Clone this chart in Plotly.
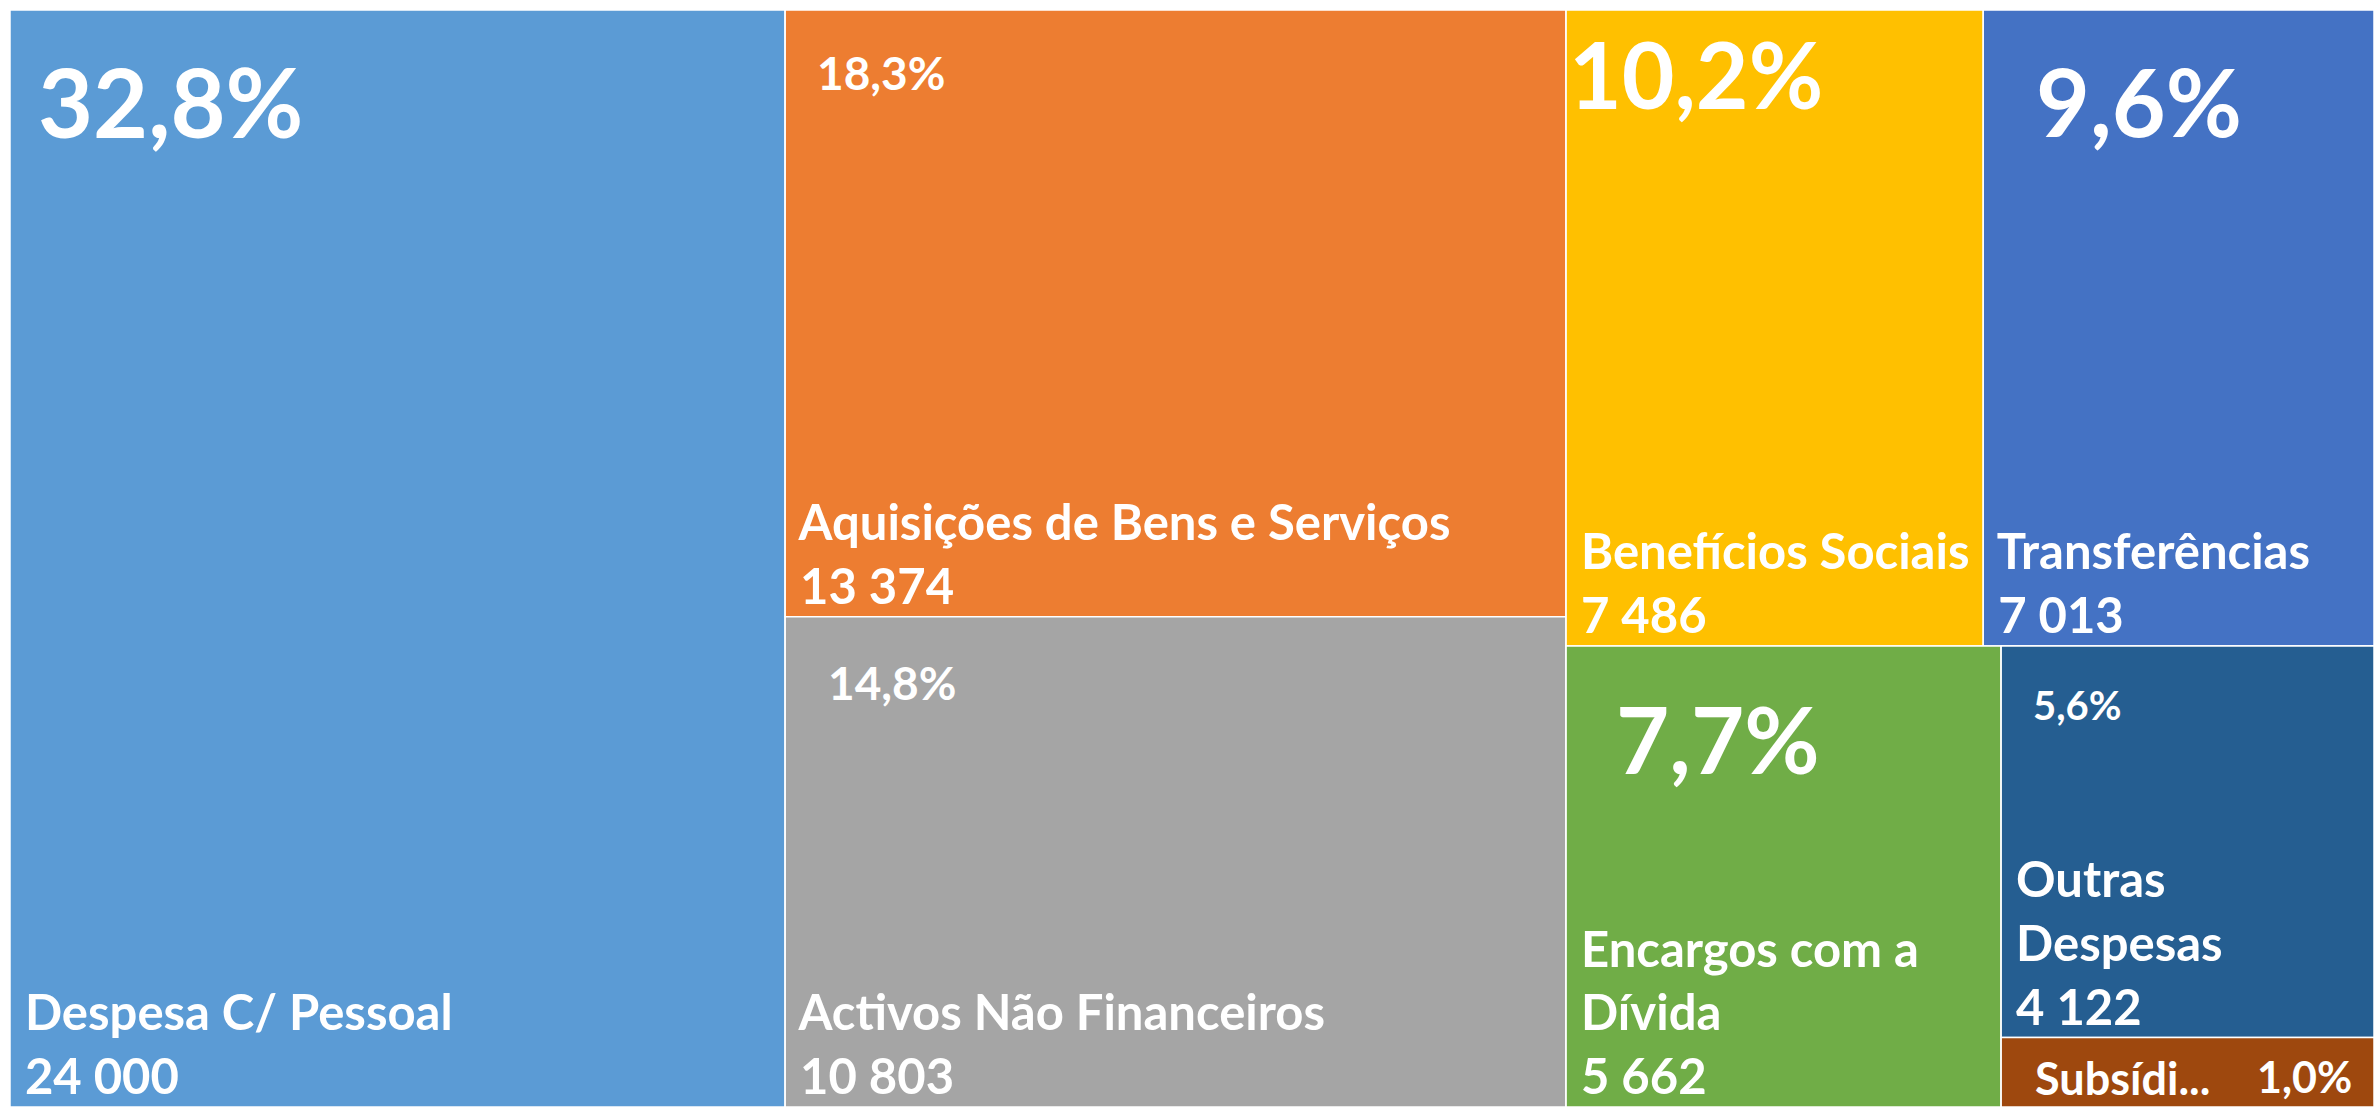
"""Despesa por classificação económica — treemap with Excel-style tile layout."""
import plotly.graph_objects as go

LABELS = ["Despesa C/ Pessoal", "Aquisições de Bens e Serviços", "Activos Não Financeiros",
          "Benefícios Sociais", "Transferências", "Encargos com a Dívida", "Outras Despesas",
          "Subsídios"]
SHOWN = ["Despesa C/ Pessoal", "Aquisições de Bens e Serviços", "Activos Não Financeiros",
         "Benefícios Sociais", "Transferências", "Encargos com a<br>Dívida", "Outras<br>Despesas",
         "Subsídi..."]
VALUES = [24000, 13374, 10803, 7486, 7013, 5662, 4122, 730]
COLORS = ["#5B9BD5", "#ED7D31", "#A5A5A5", "#FFC000", "#4472C4", "#70AD47", "#255E91", "#9E480E"]

# helper groups reproduce Excel's tiling (columns / rows) with slice-dice packing
PARENT_OF = ["", "g2", "g2", "g3a", "g3a", "g3b", "g3c", "g3c"]
GROUPS = ["g2", "g3", "g3a", "g3b", "g3c"]
GROUP_PARENTS = ["", "", "g3", "g3", "g3b"]

W, H = 2374, 1107
FONT = "Lato"

ids = LABELS + GROUPS
parents = PARENT_OF + GROUP_PARENTS
vals = VALUES + [0] * len(GROUPS)
total = sum(VALUES)


def fmt_int(v):
    return f"{v:,}".replace(",", " ")


def fmt_pct(v):
    return f"{v / total * 100:.1f}".replace(".", ",") + "%"


NB = "\u00a0"
texts = []
for lab, v in zip(SHOWN, VALUES):
    if lab.startswith("Subs"):
        texts.append("")  # too small a tile: drawn as one line below
    else:
        lines = lab.split("<br>") + [fmt_int(v)]
        texts.append("<br>".join(NB + ln for ln in lines))
texts += [""] * len(GROUPS)

fig = go.Figure(go.Treemap(
    ids=ids, labels=ids, parents=parents, values=vals, branchvalues="remainder",
    sort=False,
    text=texts, texttemplate="%{text}", textposition="bottom left",
    textfont=dict(family=FONT, size=49, color="white", weight="bold"),
    marker=dict(colors=COLORS + ["#ffffff"] * len(GROUPS),
                line=dict(color="white", width=1.5),
                pad=dict(t=0, l=0, r=0, b=0), depthfade=False),
    tiling=dict(packing="slice-dice", pad=0),
    pathbar=dict(visible=False),
    root=dict(color="rgba(0,0,0,0)"),
    hoverinfo="label+value",
))

# same slice-dice split as the trace, to anchor the percentage labels on the tiles
children = {}
for node, par in zip(ids, parents):
    children.setdefault(par, []).append(node)
value_of = dict(zip(ids, vals))


def node_size(n):
    return value_of[n] + sum(node_size(c) for c in children.get(n, []))


boxes = {}


def tile(n, x0, y0, x1, y1, depth):
    boxes[n] = (x0, y0, x1, y1)
    kids = children.get(n, [])
    tot = sum(node_size(c) for c in kids)
    pos = x0 if depth % 2 == 0 else y0
    for c in kids:
        frac = node_size(c) / tot
        if depth % 2 == 0:
            tile(c, pos, y0, pos + (x1 - x0) * frac, y1, depth + 1)
            pos += (x1 - x0) * frac
        else:
            tile(c, x0, pos, x1, pos + (y1 - y0) * frac, depth + 1)
            pos += (y1 - y0) * frac


tile("", 0, 0, 1, 1, 0)

# percentage label style per tile: font size, left indent, cap-top offset (px)
PCT_SIZE = [95, 46, 46, 91, 93, 92, 40, 43]
PCT_DX = [26, 30, 41, 1, 51, 48, 30, 0]
PCT_DY = [59, 46, 50, 33, 59, 61, 45, 0]

for i, (lab, v) in enumerate(zip(LABELS, VALUES)):
    x0, y0, x1, y1 = boxes[lab]
    size = PCT_SIZE[i]
    if lab.startswith("Subs"):
        ymid = 1 - (y0 + y1) / 2
        fig.add_annotation(x=x0, y=ymid, xref="paper", yref="paper",
                           xanchor="left", yanchor="middle", xshift=32, yshift=-6,
                           text=SHOWN[i], showarrow=False,
                           font=dict(family=FONT, size=45, color="white", weight="bold"))
        fig.add_annotation(x=x1, y=ymid, xref="paper", yref="paper",
                           xanchor="right", yanchor="middle", xshift=-20, yshift=-4,
                           text=fmt_pct(v), showarrow=False,
                           font=dict(family=FONT, size=size, color="white", weight="bold"))
        continue
    fig.add_annotation(x=x0, y=1 - y0, xref="paper", yref="paper",
                       xanchor="left", yanchor="top",
                       xshift=PCT_DX[i], yshift=-(PCT_DY[i] - 0.27 * size - 1),
                       text=fmt_pct(v), showarrow=False,
                       font=dict(family=FONT, size=size, color="white", weight="bold"))

fig.update_layout(
    width=W, height=H, autosize=False,
    margin=dict(l=10, t=10, r=0, b=0),
    paper_bgcolor="white",
    font=dict(family=FONT),
    showlegend=False,
)

fig.write_html("out.html", config={"displayModeBar": False},
               post_script="document.body.style.margin='0';document.body.style.overflow='hidden';")
